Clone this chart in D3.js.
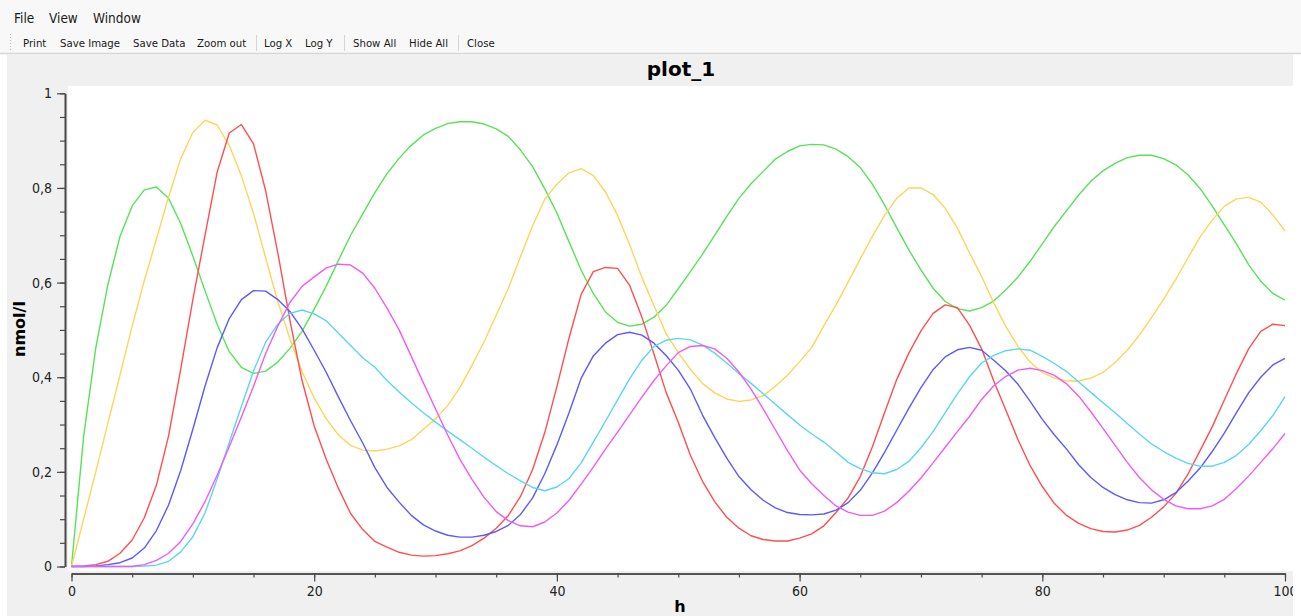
<!DOCTYPE html>
<html>
<head>
<meta charset="utf-8">
<script src="https://cdn.jsdelivr.net/npm/d3@7/dist/d3.min.js"></script>
<style>
  html, body { margin: 0; padding: 0; background: #ffffff; overflow: hidden; }
  svg { display: block; }
  .ui { font-family: "DejaVu Sans Condensed", "Liberation Sans", Arial, sans-serif; fill: #1a1a1a; }
  .tick text { font-family: "DejaVu Sans Condensed", "Liberation Sans", sans-serif; font-size: 14px; fill: #222; }
  .bold { font-family: "DejaVu Sans", sans-serif; font-weight: bold; fill: #000; }
</style>
</head>
<body>
<svg id="chart" width="1301" height="616"></svg>
<script>
// ---- data: concentrations (nmol/l) sampled every hour, 0..100 h ----
const hours = d3.range(0, 101);

const green = [
  0, 0.275, 0.462, 0.596, 0.698, 0.762, 0.796, 0.802, 0.778, 0.725,
  0.656, 0.583, 0.512, 0.454, 0.421, 0.408, 0.413, 0.432, 0.461, 0.497,
  0.544, 0.593, 0.647, 0.700, 0.745, 0.790, 0.830, 0.863, 0.890, 0.912,
  0.926, 0.936, 0.940, 0.940, 0.935, 0.925, 0.909, 0.880, 0.845, 0.798,
  0.747, 0.686, 0.626, 0.577, 0.538, 0.516, 0.508, 0.512, 0.527, 0.552,
  0.587, 0.623, 0.660, 0.700, 0.740, 0.778, 0.809, 0.835, 0.861, 0.877,
  0.889, 0.892, 0.891, 0.882, 0.866, 0.843, 0.808, 0.764, 0.716, 0.669,
  0.627, 0.588, 0.560, 0.545, 0.540, 0.547, 0.561, 0.585, 0.612, 0.645,
  0.682, 0.719, 0.752, 0.785, 0.814, 0.836, 0.852, 0.864, 0.869, 0.869,
  0.862, 0.849, 0.828, 0.799, 0.762, 0.722, 0.682, 0.638, 0.603, 0.577,
  0.563
];

const yellow = [
  0, 0.100, 0.200, 0.303, 0.405, 0.508, 0.604, 0.692, 0.781, 0.862,
  0.917, 0.943, 0.933, 0.890, 0.826, 0.746, 0.652, 0.560, 0.481, 0.412,
  0.356, 0.312, 0.278, 0.256, 0.246, 0.244, 0.248, 0.255, 0.268, 0.290,
  0.312, 0.340, 0.378, 0.425, 0.475, 0.531, 0.588, 0.655, 0.720, 0.776,
  0.808, 0.832, 0.841, 0.826, 0.792, 0.742, 0.680, 0.611, 0.551, 0.492,
  0.452, 0.417, 0.387, 0.367, 0.354, 0.349, 0.352, 0.361, 0.381, 0.404,
  0.433, 0.463, 0.509, 0.553, 0.601, 0.650, 0.698, 0.742, 0.778, 0.800,
  0.800, 0.786, 0.757, 0.715, 0.663, 0.613, 0.557, 0.507, 0.465, 0.432,
  0.410, 0.398, 0.392, 0.392, 0.398, 0.410, 0.431, 0.457, 0.489, 0.526,
  0.565, 0.607, 0.652, 0.696, 0.732, 0.761, 0.777, 0.780, 0.770, 0.743,
  0.709
];

const red = [
  0, 0.001, 0.004, 0.011, 0.028, 0.056, 0.103, 0.172, 0.276, 0.417,
  0.564, 0.700, 0.833, 0.916, 0.934, 0.893, 0.794, 0.663, 0.520, 0.393,
  0.297, 0.226, 0.165, 0.112, 0.078, 0.053, 0.041, 0.030, 0.024, 0.022,
  0.023, 0.027, 0.033, 0.044, 0.060, 0.081, 0.108, 0.148, 0.205, 0.283,
  0.380, 0.483, 0.575, 0.623, 0.632, 0.630, 0.594, 0.527, 0.449, 0.368,
  0.305, 0.235, 0.180, 0.137, 0.104, 0.081, 0.065, 0.057, 0.054, 0.054,
  0.060, 0.069, 0.086, 0.114, 0.145, 0.190, 0.253, 0.325, 0.395, 0.451,
  0.498, 0.535, 0.553, 0.547, 0.510, 0.460, 0.392, 0.330, 0.268, 0.213,
  0.169, 0.133, 0.108, 0.091, 0.080, 0.074, 0.073, 0.077, 0.087, 0.104,
  0.126, 0.154, 0.195, 0.245, 0.295, 0.352, 0.408, 0.460, 0.497, 0.512,
  0.509
];

const blue = [
  0, 0, 0.001, 0.004, 0.008, 0.018, 0.039, 0.076, 0.130, 0.203,
  0.290, 0.381, 0.462, 0.524, 0.564, 0.583, 0.582, 0.564, 0.539, 0.502,
  0.457, 0.410, 0.358, 0.308, 0.261, 0.209, 0.167, 0.136, 0.108, 0.088,
  0.075, 0.066, 0.062, 0.062, 0.066, 0.074, 0.087, 0.110, 0.145, 0.196,
  0.257, 0.325, 0.398, 0.445, 0.472, 0.490, 0.495, 0.489, 0.472, 0.446,
  0.415, 0.375, 0.320, 0.273, 0.229, 0.190, 0.162, 0.140, 0.124, 0.114,
  0.110, 0.109, 0.111, 0.119, 0.135, 0.161, 0.198, 0.241, 0.288, 0.334,
  0.378, 0.416, 0.443, 0.458, 0.463, 0.457, 0.436, 0.413, 0.385, 0.349,
  0.311, 0.278, 0.248, 0.215, 0.188, 0.167, 0.152, 0.141, 0.135, 0.134,
  0.141, 0.156, 0.180, 0.208, 0.243, 0.282, 0.325, 0.367, 0.400, 0.426,
  0.440
];

const cyan = [
  0, 0, 0, 0, 0, 0, 0.001, 0.003, 0.011, 0.031,
  0.063, 0.113, 0.185, 0.262, 0.338, 0.413, 0.474, 0.512, 0.535, 0.542,
  0.534, 0.519, 0.493, 0.467, 0.441, 0.421, 0.393, 0.369, 0.346, 0.325,
  0.305, 0.286, 0.268, 0.250, 0.231, 0.213, 0.196, 0.181, 0.167, 0.160,
  0.168, 0.186, 0.219, 0.263, 0.307, 0.352, 0.397, 0.436, 0.465, 0.478,
  0.482, 0.479, 0.468, 0.451, 0.430, 0.408, 0.387, 0.365, 0.343, 0.321,
  0.299, 0.280, 0.263, 0.242, 0.220, 0.207, 0.198, 0.196, 0.205, 0.222,
  0.251, 0.285, 0.325, 0.365, 0.401, 0.430, 0.446, 0.456, 0.460, 0.457,
  0.444, 0.429, 0.412, 0.390, 0.368, 0.346, 0.325, 0.302, 0.280, 0.259,
  0.243, 0.229, 0.218, 0.212, 0.212, 0.220, 0.235, 0.258, 0.287, 0.319,
  0.359
];

const magenta = [
  0, 0, 0, 0, 0, 0, 0.004, 0.013, 0.028, 0.053,
  0.090, 0.137, 0.193, 0.253, 0.316, 0.381, 0.450, 0.508, 0.558, 0.592,
  0.612, 0.631, 0.639, 0.637, 0.620, 0.588, 0.546, 0.500, 0.444, 0.388,
  0.333, 0.278, 0.227, 0.184, 0.146, 0.116, 0.097, 0.086, 0.084, 0.094,
  0.113, 0.140, 0.174, 0.210, 0.248, 0.284, 0.321, 0.358, 0.393, 0.424,
  0.452, 0.465, 0.467, 0.460, 0.440, 0.411, 0.375, 0.333, 0.289, 0.245,
  0.204, 0.175, 0.150, 0.128, 0.115, 0.108, 0.108, 0.117, 0.135, 0.159,
  0.187, 0.219, 0.252, 0.285, 0.317, 0.353, 0.382, 0.402, 0.415, 0.419,
  0.414, 0.404, 0.386, 0.360, 0.327, 0.292, 0.256, 0.220, 0.188, 0.162,
  0.142, 0.128, 0.122, 0.122, 0.128, 0.142, 0.165, 0.191, 0.220, 0.249,
  0.281
];

const seriesList = [
  { values: green,   color: "#58e258" },
  { values: yellow,  color: "#fdd55a" },
  { values: red,     color: "#ff4f4f" },
  { values: blue,    color: "#5a5aff" },
  { values: cyan,    color: "#5ad6f2" },
  { values: magenta, color: "#f05bf5" }
];

const menuItems = ["File", "View", "Window"];
const menuX = [14, 49, 93];
const toolItems = ["Print", "Save Image", "Save Data", "Zoom out", "Log X", "Log Y", "Show All", "Hide All", "Close"];
const toolX = [23, 60, 133, 197, 264, 305, 353, 409, 467];
const toolSeparators = [256, 344, 458];

const xMajorTicks = [0, 20, 40, 60, 80, 100];
const xMinorTicks = d3.range(0, 101, 5);
const yMajorTicks = [0, 0.2, 0.4, 0.6, 0.8, 1];
const yMinorTicks = d3.range(0, 1.0001, 0.05);

const titleText = "plot_1";
const xTitle = "h";
const yTitle = "nmol/l";

// ---- drawing ----
const svg = d3.select("#chart");

// window chrome: menu bar + toolbar
svg.append("rect").attr("x", 0).attr("y", 0).attr("width", 1301).attr("height", 54).attr("fill", "#f8f8f8");
svg.append("line").attr("x1", 0).attr("x2", 1301).attr("y1", 53.5).attr("y2", 53.5)
  .attr("stroke", "#d6d6d6").attr("stroke-width", 1.5);

svg.selectAll("text.menu").data(menuItems).join("text")
  .attr("class", "ui menu")
  .attr("x", (d, i) => menuX[i]).attr("y", 22.5)
  .attr("font-size", 13.5).text(d => d);

// toolbar grip
svg.append("line").attr("x1", 10.5).attr("x2", 10.5).attr("y1", 34).attr("y2", 51)
  .attr("stroke", "#b8b8b8").attr("stroke-width", 1).attr("stroke-dasharray", "1,2");

svg.selectAll("text.tool").data(toolItems).join("text")
  .attr("class", "ui tool")
  .attr("x", (d, i) => toolX[i]).attr("y", 47)
  .attr("font-size", 11.3).text(d => d);

svg.selectAll("line.sep").data(toolSeparators).join("line")
  .attr("class", "sep")
  .attr("x1", d => d + 0.5).attr("x2", d => d + 0.5)
  .attr("y1", 35).attr("y2", 51)
  .attr("stroke", "#d4d4d4").attr("stroke-width", 1);

// plot panel
const panel = { left: 7, right: 1293, top: 54, bottom: 616 };
svg.append("rect")
  .attr("x", panel.left).attr("y", panel.top)
  .attr("width", panel.right - panel.left).attr("height", panel.bottom - panel.top)
  .attr("fill", "#f0f0f0");

svg.append("clipPath").attr("id", "panelClip")
  .append("rect")
  .attr("x", panel.left).attr("y", panel.top)
  .attr("width", panel.right - panel.left).attr("height", panel.bottom - panel.top);

const root = svg.append("g").attr("clip-path", "url(#panelClip)");

// canvas
root.append("rect").attr("x", 68).attr("y", 86).attr("width", 1225).attr("height", 485).attr("fill", "#ffffff");

const x = d3.scaleLinear().domain([0, 100]).range([71.5, 1285]);
const y = d3.scaleLinear().domain([0, 1]).range([566.5, 93.3]);

// title
root.append("text").attr("class", "bold")
  .attr("x", 681).attr("y", 76).attr("text-anchor", "middle")
  .attr("font-size", 20).text(titleText);

// curves
const line = d3.line()
  .x((d, i) => x(hours[i]))
  .y(d => y(d))
  .curve(d3.curveLinear);

root.append("g")
  .selectAll("path")
  .data(seriesList)
  .join("path")
  .attr("d", s => line(s.values))
  .attr("fill", "none")
  .attr("stroke", s => s.color)
  .attr("stroke-width", 1.4)
  .attr("stroke-linejoin", "round");

const fmt = d => String(+d.toFixed(2)).replace(".", ",");
const axisColor = "#4a4a4a";

// x axis (detached, below canvas)
const xAxisY = 573.5;
const gxMinor = root.append("g").attr("transform", `translate(0,${xAxisY})`)
  .call(d3.axisBottom(x).tickValues(xMinorTicks).tickSize(4).tickSizeOuter(0).tickFormat(""));
const gx = root.append("g").attr("transform", `translate(0,${xAxisY})`)
  .call(d3.axisBottom(x).tickValues(xMajorTicks).tickSize(8).tickSizeOuter(0).tickPadding(5).tickFormat(fmt));

// y axis (detached, left of canvas)
const yAxisX = 65;
const gyMinor = root.append("g").attr("transform", `translate(${yAxisX},0)`)
  .call(d3.axisLeft(y).tickValues(yMinorTicks).tickSize(5).tickSizeOuter(0).tickFormat(""));
const gy = root.append("g").attr("transform", `translate(${yAxisX},0)`)
  .call(d3.axisLeft(y).tickValues(yMajorTicks).tickSize(8).tickSizeOuter(0).tickPadding(5).tickFormat(fmt));

[gxMinor, gx, gyMinor, gy].forEach(g => {
  g.selectAll(".domain").attr("stroke", axisColor).attr("stroke-width", 1.6);
  g.selectAll(".tick line").attr("stroke", axisColor).attr("stroke-width", 1.2);
});

// axis titles
root.append("text").attr("class", "bold")
  .attr("transform", "translate(25,329) rotate(-90)")
  .attr("text-anchor", "middle").attr("font-size", 16).text(yTitle);

root.append("text").attr("class", "bold")
  .attr("x", 680).attr("y", 612).attr("text-anchor", "middle")
  .attr("font-size", 16).text(xTitle);
</script>
</body>
</html>
